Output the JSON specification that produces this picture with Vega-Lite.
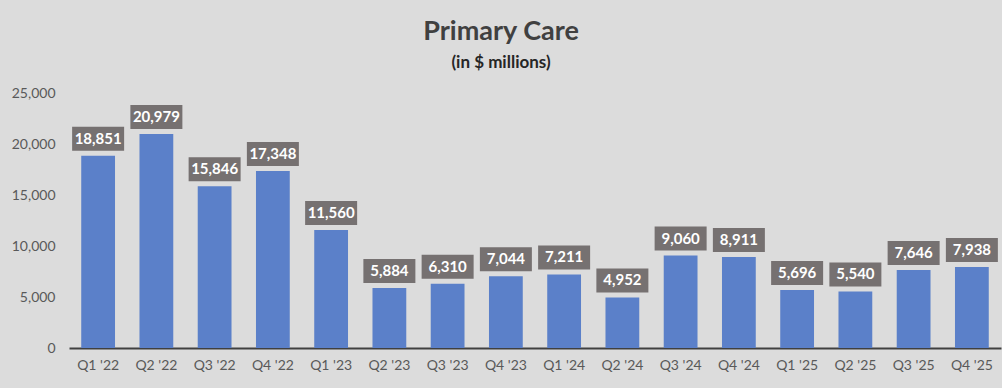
{
  "$schema": "https://vega.github.io/schema/vega-lite/v6.json",
  "width": 932,
  "height": 255,
  "autosize": {"type": "none"},
  "padding": {"left": 69, "top": 93, "right": 1, "bottom": 40},
  "background": "#dcdcdc",
  "title": {
    "text": "Primary Care",
    "subtitle": "(in $ millions)",
    "anchor": "middle",
    "dx": -34,
    "offset": 14,
    "font": "Lato",
    "fontSize": 27,
    "fontWeight": "bold",
    "color": "#404040",
    "subtitleFont": "Lato",
    "subtitleFontSize": 17,
    "subtitleFontWeight": "bold",
    "subtitleColor": "#262626",
    "subtitlePadding": 9
  },
  "data": {
    "values": [
      {"quarter": "Q1 '22", "value": 18851},
      {"quarter": "Q2 '22", "value": 20979},
      {"quarter": "Q3 '22", "value": 15846},
      {"quarter": "Q4 '22", "value": 17348},
      {"quarter": "Q1 '23", "value": 11560},
      {"quarter": "Q2 '23", "value": 5884},
      {"quarter": "Q3 '23", "value": 6310},
      {"quarter": "Q4 '23", "value": 7044},
      {"quarter": "Q1 '24", "value": 7211},
      {"quarter": "Q2 '24", "value": 4952},
      {"quarter": "Q3 '24", "value": 9060},
      {"quarter": "Q4 '24", "value": 8911},
      {"quarter": "Q1 '25", "value": 5696},
      {"quarter": "Q2 '25", "value": 5540},
      {"quarter": "Q3 '25", "value": 7646},
      {"quarter": "Q4 '25", "value": 7938}
    ]
  },
  "encoding": {
    "x": {
      "field": "quarter", "type": "nominal", "sort": null,
      "scale": {"paddingInner": 0.42, "paddingOuter": 0.21},
      "axis": {
        "title": null, "labelAngle": 0, "ticks": false,
        "domainColor": "#404040", "domainWidth": 2,
        "labelFont": "Lato", "labelFontSize": 14, "labelColor": "#595959",
        "labelPadding": 10
      }
    },
    "y": {
      "field": "value", "type": "quantitative",
      "scale": {"domain": [0, 25000]},
      "axis": {
        "title": null, "values": [0, 5000, 10000, 15000, 20000, 25000],
        "format": ",.0f", "grid": false, "domain": false, "ticks": false,
        "labelFont": "Lato", "labelFontSize": 14, "labelColor": "#595959",
        "labelPadding": 14
      }
    }
  },
  "layer": [
    {"mark": {"type": "bar", "color": "#5b80c9"}},
    {
      "mark": {"type": "bar", "color": "#767171", "width": 52, "yOffset": -29, "y2Offset": -5},
      "encoding": {"y2": {"field": "value"}}
    },
    {
      "mark": {"type": "text", "color": "white", "font": "Lato", "fontSize": 15, "fontWeight": "bold", "baseline": "middle", "dy": -17},
      "encoding": {"text": {"field": "value", "type": "quantitative", "format": ","}}
    }
  ],
  "config": {"view": {"stroke": null}}
}
